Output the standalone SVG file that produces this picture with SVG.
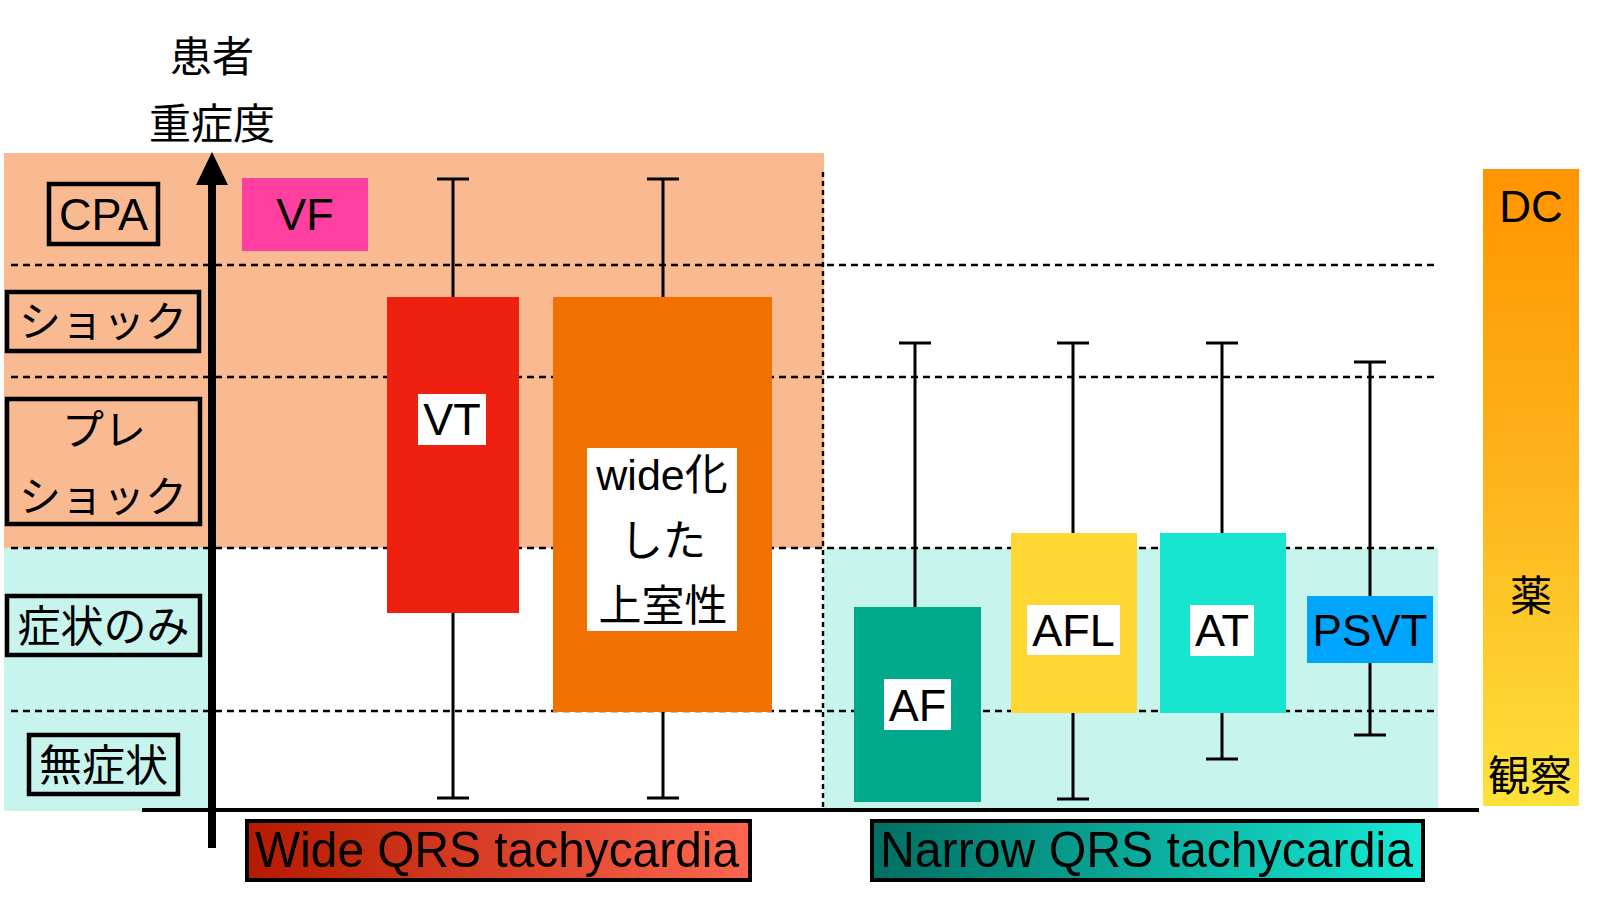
<svg xmlns="http://www.w3.org/2000/svg" width="1600" height="904" viewBox="0 0 1600 904">
<style>
.jp{font-family:"Noto Sans CJK JP","Liberation Sans",sans-serif;fill:#000;}
.lat{font-family:"Liberation Sans","Noto Sans CJK JP",sans-serif;fill:#000;}
.dash{stroke:#000;stroke-width:2.4;stroke-dasharray:7 5;fill:none;}
.vdot{stroke:#000;stroke-width:2.4;stroke-dasharray:5 4;fill:none;}
.wh{stroke:#000;stroke-width:3;fill:none;}
.lbl{fill:none;stroke:#000;stroke-width:4.5;}
.wbox{fill:#fff;}
</style>
<defs>
<linearGradient id="gDC" x1="0" y1="0" x2="0" y2="1">
<stop offset="0" stop-color="#FF9400"/>
<stop offset="0.5" stop-color="#FDB51C"/>
<stop offset="1" stop-color="#FDE23A"/>
</linearGradient>
<linearGradient id="gWide" x1="0" y1="0" x2="1" y2="0">
<stop offset="0" stop-color="#B51A00"/>
<stop offset="1" stop-color="#FF6650"/>
</linearGradient>
<linearGradient id="gNarrow" x1="0" y1="0" x2="1" y2="0">
<stop offset="0" stop-color="#006E62"/>
<stop offset="1" stop-color="#16EAD6"/>
</linearGradient>
</defs>

<g id="background">
<rect x="4" y="153" width="820" height="395" fill="#F9BA92"/>
<rect x="4" y="548" width="206" height="263" fill="#C8F4EE"/>
<rect x="823" y="548" width="615" height="260" fill="#C8F4EE"/>
</g>

<g id="gridlines">
<line class="dash" x1="11" y1="265" x2="1434" y2="265"/>
<line class="dash" x1="11" y1="377" x2="1434" y2="377"/>
<line class="dash" x1="11" y1="548" x2="1434" y2="548"/>
<line class="dash" x1="11" y1="711" x2="1434" y2="711"/>
<line class="vdot" x1="823" y1="172" x2="823" y2="808"/>
</g>

<g id="title">
<text class="jp" x="212" y="53" font-size="42" text-anchor="middle" dominant-baseline="central">患者</text>
<text class="jp" x="212" y="120" font-size="42" text-anchor="middle" dominant-baseline="central">重症度</text>
</g>

<g id="level-cpa">
<rect class="lbl" x="49" y="184" width="109" height="60"/>
<text class="lat" x="103.5" y="230" font-size="45" text-anchor="middle">CPA</text>
</g>
<g id="level-shock">
<rect class="lbl" x="7" y="292" width="192" height="59"/>
<text class="jp" x="103" y="318" font-size="42" text-anchor="middle" dominant-baseline="central">ショック</text>
</g>
<g id="level-preshock">
<rect class="lbl" x="7" y="399" width="193" height="125"/>
<text class="jp" x="104" y="426" font-size="42" text-anchor="middle" dominant-baseline="central">プレ</text>
<text class="jp" x="103" y="493" font-size="42" text-anchor="middle" dominant-baseline="central">ショック</text>
</g>
<g id="level-symptom">
<rect class="lbl" x="7" y="596" width="193" height="59"/>
<text class="jp" x="103.5" y="623" font-size="43" text-anchor="middle" dominant-baseline="central">症状のみ</text>
</g>
<g id="level-asymptom">
<rect class="lbl" x="29" y="735" width="149" height="59"/>
<text class="jp" x="103.5" y="762" font-size="43" text-anchor="middle" dominant-baseline="central">無症状</text>
</g>

<g id="connectors">
<line class="wh" x1="453" y1="179" x2="453" y2="798"/>
<line class="wh" x1="437" y1="179" x2="469" y2="179"/>
<line class="wh" x1="437" y1="798" x2="469" y2="798"/>
<line class="wh" x1="663" y1="179" x2="663" y2="798"/>
<line class="wh" x1="647" y1="179" x2="679" y2="179"/>
<line class="wh" x1="647" y1="798" x2="679" y2="798"/>
<line class="wh" x1="915" y1="343" x2="915" y2="607"/>
<line class="wh" x1="899" y1="343" x2="931" y2="343"/>
<line class="wh" x1="1073" y1="343" x2="1073" y2="799"/>
<line class="wh" x1="1057" y1="343" x2="1089" y2="343"/>
<line class="wh" x1="1057" y1="799" x2="1089" y2="799"/>
<line class="wh" x1="1222" y1="343" x2="1222" y2="759"/>
<line class="wh" x1="1206" y1="343" x2="1238" y2="343"/>
<line class="wh" x1="1206" y1="759" x2="1238" y2="759"/>
<line class="wh" x1="1370" y1="362" x2="1370" y2="735"/>
<line class="wh" x1="1354" y1="362" x2="1386" y2="362"/>
<line class="wh" x1="1354" y1="735" x2="1386" y2="735"/>
</g>

<g id="node-vf">
<rect x="242" y="178" width="126" height="73" fill="#FF40A0"/>
<text class="lat" x="305" y="230" font-size="45" text-anchor="middle">VF</text>
</g>
<g id="node-vt">
<rect x="387" y="297" width="132" height="316" fill="#EE2010"/>
<rect class="wbox" x="418" y="394" width="68" height="51"/>
<text class="lat" x="452" y="435" font-size="45" text-anchor="middle">VT</text>
</g>
<g id="node-wide-svt">
<rect x="553" y="297" width="219" height="415" fill="#F07000"/>
<rect class="wbox" x="587" y="448" width="150" height="183"/>
<text class="lat" x="662" y="490" font-size="43" text-anchor="middle">wide化</text>
<text class="jp" x="663" y="537" font-size="43" text-anchor="middle" dominant-baseline="central">した</text>
<text class="jp" x="663" y="602" font-size="43" text-anchor="middle" dominant-baseline="central">上室性</text>
</g>
<g id="node-af">
<rect x="854" y="607" width="127" height="195" fill="#00A88C"/>
<rect class="wbox" x="884" y="679" width="67" height="51"/>
<text class="lat" x="917.5" y="721" font-size="45" text-anchor="middle">AF</text>
</g>
<g id="node-afl">
<rect x="1011" y="533" width="126" height="180" fill="#FFD733"/>
<rect class="wbox" x="1027" y="605" width="93" height="50"/>
<text class="lat" x="1073.5" y="646" font-size="45" text-anchor="middle">AFL</text>
</g>
<g id="node-at">
<rect x="1160" y="533" width="126" height="180" fill="#17E5CF"/>
<rect class="wbox" x="1190" y="605" width="64" height="51"/>
<text class="lat" x="1222" y="646" font-size="45" text-anchor="middle">AT</text>
</g>
<g id="node-psvt">
<rect x="1307" y="596" width="126" height="67" fill="#00A5FF"/>
<text class="lat" x="1370" y="646" font-size="44" text-anchor="middle">PSVT</text>
</g>

<g id="treatment-bar">
<rect x="1483" y="169" width="96" height="637" fill="url(#gDC)"/>
<text class="lat" x="1531" y="222" font-size="44" text-anchor="middle">DC</text>
<text class="jp" x="1531" y="592" font-size="42" text-anchor="middle" dominant-baseline="central">薬</text>
<text class="jp" x="1530" y="772" font-size="42" text-anchor="middle" dominant-baseline="central">観察</text>
</g>

<g id="axes">
<line x1="142" y1="810" x2="1479" y2="810" stroke="#000" stroke-width="4"/>
<line x1="212" y1="180" x2="212" y2="848" stroke="#000" stroke-width="8"/>
<polygon points="212,152 196,185 228,185" fill="#000"/>
</g>

<g id="category-wide">
<rect x="247" y="821" width="503" height="59" fill="url(#gWide)" stroke="#000" stroke-width="4"/>
<text class="lat" x="255" y="867" font-size="50" textLength="484" lengthAdjust="spacingAndGlyphs">Wide QRS tachycardia</text>
</g>
<g id="category-narrow">
<rect x="872" y="821" width="551" height="59" fill="url(#gNarrow)" stroke="#000" stroke-width="4"/>
<text class="lat" x="880" y="867" font-size="50" textLength="533" lengthAdjust="spacingAndGlyphs">Narrow QRS tachycardia</text>
</g>
</svg>
